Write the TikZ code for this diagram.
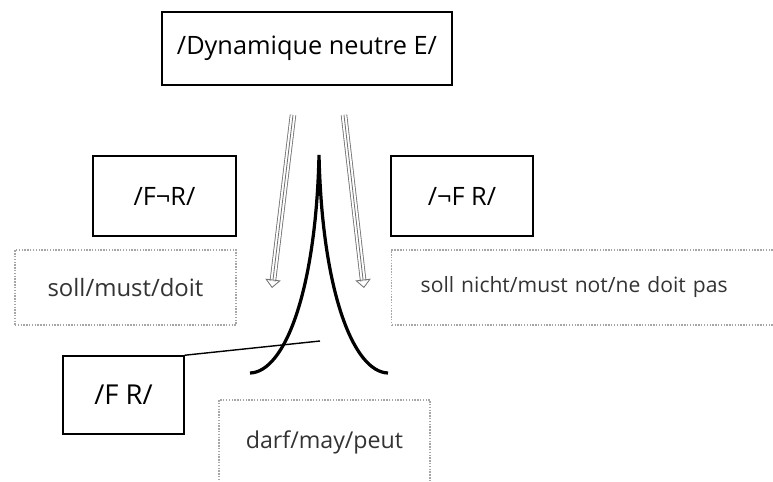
\documentclass[tikz,border=0pt]{standalone}
\usepackage{fontspec}
\setmainfont{Open Sans}
\usetikzlibrary{arrows.meta}

\begin{document}
\begin{tikzpicture}[x=0.025cm, y=-0.025cm,
    box/.style={rectangle, draw=black, line width=1.1pt, font=\fontsize{18}{21}\selectfont},
    sense/.style={rectangle, draw=gray!70, line width=1pt, dash pattern=on 1pt off 1pt,
        text=black!80, font=\fontsize{15}{18}\selectfont},
    triple/.style={draw=black!55, line width=0.6pt, double=white, double distance=3.4pt, shorten >=5pt},
    tripletip/.style={draw=black!55, line width=0.6pt, -{Triangle[open, length=6pt, width=11pt]}}]
    \useasboundingbox (0,0) rectangle (773,481);

    \node[box, minimum width=7.25cm, minimum height=1.825cm] (E) at (307,48.5) {/Dynamique neutre E/};
    \node[box, minimum width=3.575cm, minimum height=2cm] (FnR) at (164.5,196) {/F¬R/};
    \node[box, minimum width=3.55cm, minimum height=2cm] (nFR) at (462,196) {/¬F R/};
    \node[box, minimum width=3.025cm, minimum height=1.95cm, font=\fontsize{19.5}{22}\selectfont] (FR) at (123.5,395) {/F R/};

    \node[sense, minimum width=5.525cm, minimum height=1.875cm, font=\fontsize{17}{20}\selectfont] (soll) at (125.5,287.5) {soll/must/doit};
    \node[sense, anchor=west, text width=8.525cm, inner xsep=0.725cm, align=left,
        minimum height=1.875cm] (sollnicht) at (391,287.5) {soll nicht/must not/ne doit pas};
    \node[sense, minimum width=5.275cm, minimum height=2.1cm, font=\fontsize{16.5}{19}\selectfont] (darf) at (324.5,442) {darf/may/peut};

    % the cusp
    \coordinate (top) at (319,155);
    \coordinate (left) at (250,373);
    \coordinate (right) at (388,373);
    \draw[line width=2.3pt] (left) .. controls (285,372) and (316,290) .. (top)
        .. controls (322,290) and (353,372) .. (right);

    \coordinate (tick) at (320,341);
    \draw[line width=1pt] (FR.north east) -- (tick);

    % hollow arrows
    \coordinate (a1) at (293,115);
    \coordinate (a2) at (272,288);
    \coordinate (b1) at (344,115);
    \coordinate (b2) at (364,288);
    \foreach \s/\t in {a1/a2, b1/b2} {
        \draw[triple] (\s) -- (\t);
        \draw[tripletip] (\s) -- (\t);
    }
\end{tikzpicture}
\end{document}
